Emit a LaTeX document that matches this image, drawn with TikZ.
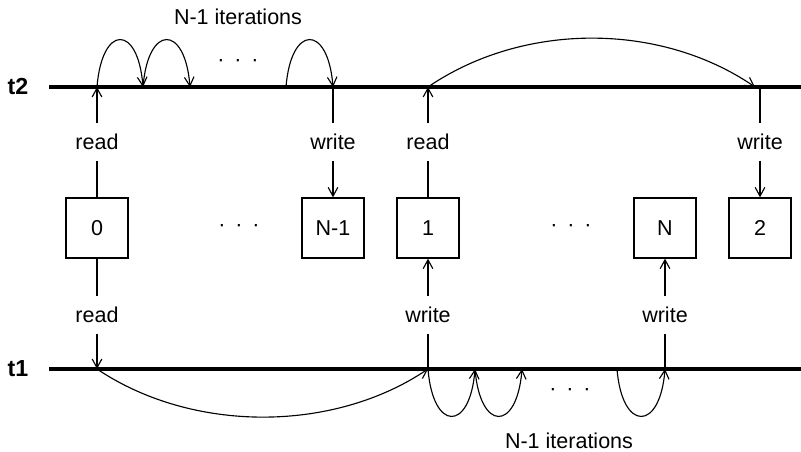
\documentclass[tikz,border=0pt]{standalone}
\usepackage{fontspec}
\setmainfont{Liberation Sans}
\usetikzlibrary{arrows.meta,positioning}
\newcommand{\fsz}{\fontsize{15.3}{18}\selectfont}
\tikzset{
  >={Straight Barb[length=2.2mm,width=2.4mm]},
  tline/.style={line width=2.8pt},
  tname/.style={font=\fontsize{16.5}{19}\selectfont\bfseries,inner sep=0pt},
  slot/.style={draw,line width=0.9pt,minimum width=1.55cm,minimum height=1.5cm,inner sep=0pt,font=\fsz},
  rw/.style={font=\fsz,minimum height=0.9cm,inner sep=0pt},
  io/.style={->},
  hop/.style={->},
  iter/.style={font=\fsz,inner sep=0pt},
  gap/.style={font=\fsz,inner sep=0pt},
}
\newcommand{\slotbox}[3]{\node[slot] (#1) at (#2,228) {#3};}
\newcommand{\gapdots}{·\hspace{.46em}·\hspace{.46em}·}

\begin{document}
\begin{tikzpicture}[x=0.025cm,y=-0.025cm,line width=0.8pt]
  \useasboundingbox (0,0) rectangle (801,452);
  % timelines
  \coordinate (t2s) at (49,87);  \coordinate (t2e) at (801,87);
  \coordinate (t1s) at (49,369); \coordinate (t1e) at (801,369);
  \draw[tline] (t2s) -- (t2e);
  \draw[tline] (t1s) -- (t1e);
  \node[tname] (t2) at (18,87) {t2};
  \node[tname] (t1) at (18,369) {t1};
  \foreach \n/\x in {a0/97,a1/143,a2/190,a3/286,a4/333,b0/428,b1/755,b2/760}
    \coordinate (\n) at (\x,87);
  \foreach \n/\x in {d0/97,c0/428,c1/475,c2/522,c3/617,c4/665}
    \coordinate (\n) at (\x,369);
  % slots
  \slotbox{s0}{97}{0}
  \slotbox{sn1}{333}{N-1}
  \slotbox{s1}{428}{1}
  \slotbox{sn}{665}{N}
  \slotbox{s2}{760}{2}
  \node[gap] (g1) at (239,228) {\gapdots};
  \node[gap] (g2) at (571,228) {\gapdots};
  % read / write, t2
  \node[rw] (r0) at (97,142) {read};
  \draw (s0) -- (r0); \draw[io] (r0) -- (a0);
  \node[rw] (w0) at (333,142) {write};
  \draw (a4) -- (w0); \draw[io] (w0) -- (sn1);
  \node[rw] (r1) at (428,142) {read};
  \draw (s1) -- (r1); \draw[io] (r1) -- (b0);
  \node[rw] (w1) at (760,142) {write};
  \draw (b2) -- (w1); \draw[io] (w1) -- (s2);
  % read / write, t1
  \node[rw] (r2) at (97,315) {read};
  \draw (s0) -- (r2); \draw[io] (r2) -- (d0);
  \node[rw] (w2) at (428,315) {write};
  \draw (c0) -- (w2); \draw[io] (w2) -- (s1);
  \node[rw] (w3) at (665,315) {write};
  \draw (c4) -- (w3); \draw[io] (w3) -- (sn);
  % iterations on t2
  \draw[hop] (a0) .. controls +(5,-63) and +(-5,-63) .. (a1);
  \draw[hop] (a1) .. controls +(5,-63) and +(-5,-63) .. (a2);
  \draw[hop] (a3) .. controls +(5,-63) and +(-5,-63) .. (a4);
  \node[gap] (g3) at (238,63) {\gapdots};
  \node[iter] (n2) at (238,17) {N-1 iterations};
  \draw[hop] (b0) .. controls +(95,-65) and +(-95,-65) .. (b1);
  % iterations on t1
  \draw[hop] (d0) .. controls +(95,64) and +(-95,64) .. (c0);
  \draw[hop] (c0) .. controls +(5,63) and +(-5,63) .. (c1);
  \draw[hop] (c1) .. controls +(5,63) and +(-5,63) .. (c2);
  \draw[hop] (c3) .. controls +(5,63) and +(-5,63) .. (c4);
  \node[gap] (g4) at (570,392) {\gapdots};
  \node[iter] (n1) at (569,441) {N-1 iterations};
\end{tikzpicture}
\end{document}
